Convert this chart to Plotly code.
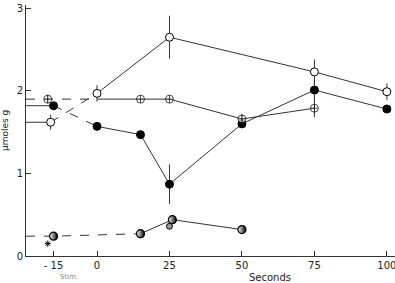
import plotly.graph_objects as go

# ---- data ----
X_MIN, X_MAX = -24.5, 102.8
Y_MIN, Y_MAX = 0, 3.04

open_t = [-16, 0, 25, 75, 100]
open_v = [1.62, 1.97, 2.65, 2.23, 1.99]
open_err = [0.09, 0.10, 0.26, 0.15, 0.10]

filled_t = [-15, 0, 15, 25, 50, 75, 100]
filled_v = [1.82, 1.57, 1.47, 0.87, 1.60, 2.01, 1.78]
filled_err = [0, 0, 0, 0.24, 0, 0.13, 0]

cross_t = [-17, 0, 15, 25, 50, 75]
cross_v = [1.90, 1.90, 1.90, 1.90, 1.66, 1.79]
cross_err = [0.05, 0, 0, 0, 0.06, 0.11]
cross_shown = [True, False, True, True, True, True]

half_t = [-15, 15, 26, 50]
half_v = [0.24, 0.27, 0.44, 0.32]

extra_star = ([-17], [0.15])
extra_grey = ([25], [0.36])

x_ticks = [-15, 0, 25, 50, 75, 100]
x_tick_text = ["- 15", "0", "25", "50", "75", "100"]
y_ticks = [0, 1, 2, 3]

LC = "#333333"
fig = go.Figure()

def seg(x, y, dash):
    fig.add_trace(go.Scatter(x=x, y=y, mode="lines", showlegend=False,
                             line=dict(color=LC, width=1, dash=dash), hoverinfo="skip"))

# open circles
seg([X_MIN, open_t[0]], [open_v[0], open_v[0]], "solid")
seg(open_t[:2], open_v[:2], "dash")
seg(open_t[1:], open_v[1:], "solid")
# filled
seg([X_MIN, filled_t[0]], [filled_v[0], filled_v[0]], "solid")
seg(filled_t[:2], filled_v[:2], "dash")
seg(filled_t[1:], filled_v[1:], "solid")
# crossed
seg([X_MIN] + cross_t[:2], [cross_v[0]] + cross_v[:2], "dash")
seg(cross_t[1:], cross_v[1:], "solid")
# half filled
seg([X_MIN] + half_t[:2], [half_v[0]] + half_v[:2], "dash")
seg(half_t[1:], half_v[1:], "solid")

def err(e):
    return dict(type="data", array=e, visible=True, color=LC, thickness=1, width=0)

fig.add_trace(go.Scatter(x=open_t, y=open_v, mode="markers", showlegend=False,
                         error_y=err(open_err),
                         marker=dict(symbol="circle", size=8, color="white",
                                     line=dict(color="black", width=1))))
fig.add_trace(go.Scatter(x=filled_t, y=filled_v, mode="markers", showlegend=False,
                         error_y=err(filled_err),
                         marker=dict(symbol="circle", size=8, color="black",
                                     line=dict(color="black", width=1))))
fig.add_trace(go.Scatter(x=cross_t, y=cross_v, mode="markers", showlegend=False,
                         error_y=err(cross_err),
                         marker=dict(symbol="circle-cross", size=[8 if s else 0 for s in cross_shown],
                                     color="white", line=dict(color="black", width=1))))
# half-filled circles (white-to-black horizontal gradient)
fig.add_trace(go.Scatter(x=half_t, y=half_v, mode="markers", showlegend=False,
                         marker=dict(symbol="circle", size=8, color="white",
                                     gradient=dict(type="horizontal", color="black"),
                                     line=dict(color="black", width=1.2))))
fig.add_trace(go.Scatter(x=extra_star[0], y=extra_star[1], mode="markers", showlegend=False,
                         marker=dict(symbol="asterisk-open", size=5, color="black",
                                     line=dict(color="black", width=1))))
fig.add_trace(go.Scatter(x=extra_grey[0], y=extra_grey[1], mode="markers", showlegend=False,
                         marker=dict(symbol="circle", size=6, color="#9a9a9a",
                                     line=dict(color="black", width=1))))

axis_common = dict(showgrid=False, zeroline=False, showline=True, linecolor=LC, linewidth=1,
                   ticks="inside", ticklen=5, tickcolor=LC, ticklabeloverflow="allow",
                   tickfont=dict(family="DejaVu Sans", size=10, color="#222"))
fig.update_xaxes(range=[X_MIN, X_MAX], tickvals=x_ticks, ticktext=x_tick_text, **axis_common)
fig.update_yaxes(range=[Y_MIN, Y_MAX], tickvals=y_ticks, **axis_common)

L, T, W, H = 26, 5, 369, 251

def px(xp, yp):
    return (xp - L) / W, (T + H - yp) / H

for txt, (xp, yp), size, col, ang in [
    ("Seconds", (270, 277), 10, "#222", 0),
    ("Stim.", (69, 277), 7, "#888", 0),
    ("μmoles g", (5, 131), 9, "#222", -90),
]:
    ax, ay = px(xp, yp)
    fig.add_annotation(text=txt, x=ax, y=ay, xref="paper", yref="paper", xanchor="center",
                       yanchor="middle", showarrow=False, textangle=ang,
                       font=dict(family="DejaVu Sans", size=size, color=col))

fig.update_layout(width=395, height=283, margin=dict(l=L, r=0, t=T, b=27),
                  paper_bgcolor="white", plot_bgcolor="white")
fig.write_html("out.html")
